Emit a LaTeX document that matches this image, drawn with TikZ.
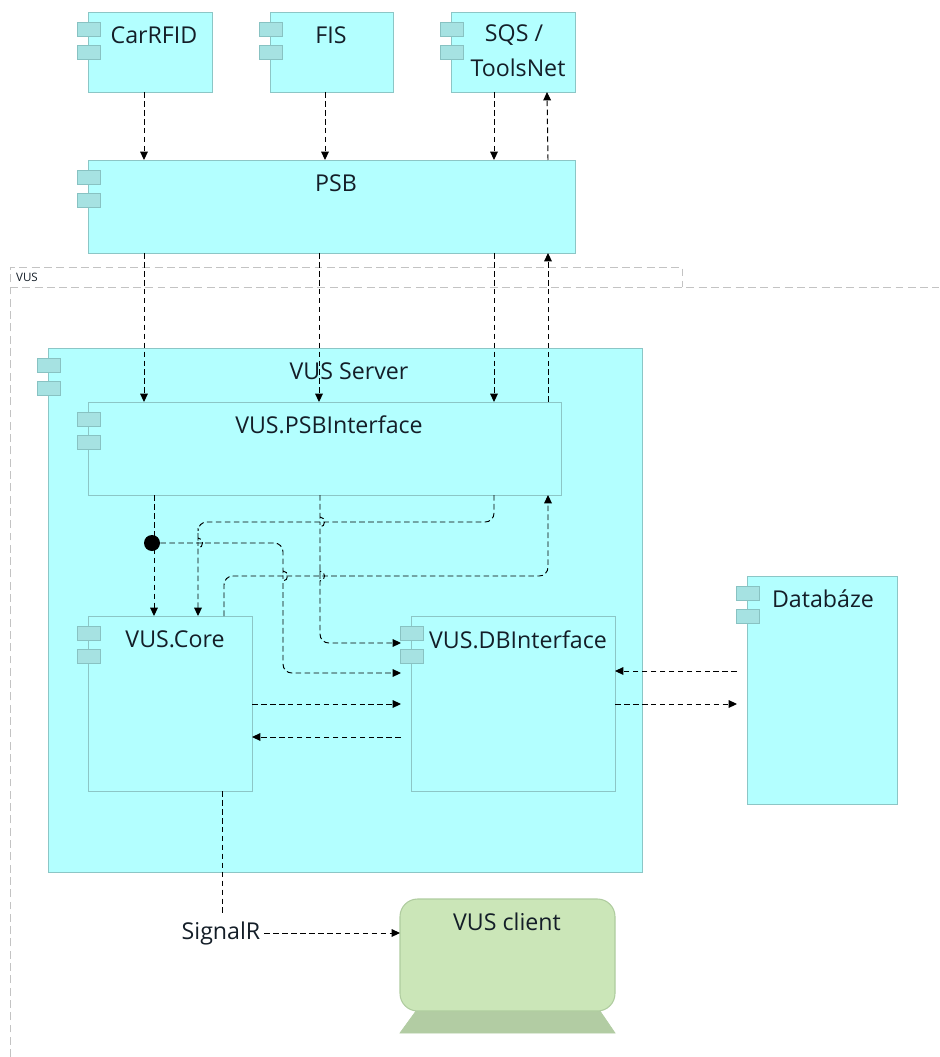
\documentclass[tikz,border=0pt]{standalone}
\usepackage{fontspec}
\setmainfont{Open Sans}
\usetikzlibrary{arrows.meta, calc}
\definecolor{cBox}{RGB}{179,255,255}
\definecolor{cBoxLine}{RGB}{140,198,198}
\definecolor{cTab}{RGB}{166,226,226}
\definecolor{cTabLine}{RGB}{136,194,194}
\definecolor{cClient}{RGB}{203,230,184}
\definecolor{cClientLine}{RGB}{175,204,159}
\definecolor{cStand}{RGB}{178,204,163}
\definecolor{cFrame}{RGB}{195,195,195}
\definecolor{cText}{RGB}{20,30,40}

\tikzset{
  boxsize/.style 2 args={minimum width=#1*0.02cm, minimum height=#2*0.02cm},
  compbox/.style={draw=cBoxLine, fill=cBox, line width=0.5pt, inner sep=0pt, outer sep=0pt, anchor=north west},
  tabbox/.style={draw=cTabLine, fill=cTab, line width=0.5pt},
  lbl/.style={font=\fontsize{13.2}{16}\selectfont, text=cText, inner sep=0pt},
  conn/.style={black, line width=0.55pt, dash pattern=on 3.2pt off 1.9pt, rounded corners=5pt},
  arr/.style={conn, -{Triangle[length=4.8pt, width=4.4pt]}},
  frameline/.style={cFrame, line width=0.5pt, dash pattern=on 4.5pt off 2.5pt}
}
% hop of a vertical line over a horizontal one
\newcommand{\hopat}[2]{-- (#1,#2-6) [sharp corners] -- (#1,#2-5) .. controls (#1+6,#2-5) and (#1+6,#2+5) .. (#1,#2+5) -- (#1,#2+6) [rounded corners=5pt]}
% the two small rectangles on the left edge of a component
\newcommand{\comptabs}[1]{
  \foreach \ya in {10,33} {
    \draw[tabbox] ($(#1.north west)+(-11,\ya)$) rectangle ($(#1.north west)+(12,\ya+14)$);
  }
}

\begin{document}
\begin{tikzpicture}[x=0.02cm, y=-0.02cm]
\useasboundingbox (0,0) rectangle (939,1057);

% VUS frame
\draw[frameline] (10,1057) -- (10,267) -- (682,267) -- (682,287);
\draw[frameline] (10,287) -- (939,287);
\node[font=\fontsize{6.6}{8}\selectfont, text=cText, inner sep=0pt] (vuslabel) at (27,277) {VUS};

% top row
\node[compbox, boxsize={124}{80}] (carrfid) at (88,12) {};
\node[compbox, boxsize={123}{80}] (fis) at (270,12) {};
\node[compbox, boxsize={124}{80}] (sqs) at (451,12) {};
\node[compbox, boxsize={487}{93}] (psb) at (88,160) {};
\comptabs{carrfid}
\comptabs{fis}
\comptabs{sqs}
\comptabs{psb}
\node[lbl] (carrfidtext) at (154,35) {CarRFID};
\node[lbl] (fistext) at (331,35) {FIS};
\node[lbl] (sqstext) at (514,35) {SQS /};
\node[lbl] (toolstext) at (518,68) {ToolsNet};
\node[lbl] (psbtext) at (336,183) {PSB};

% server
\node[compbox, boxsize={594}{524}] (server) at (48,348) {};
\node[compbox, boxsize={473}{93}] (psbif) at (88,402) {};
\node[compbox, boxsize={164}{175}] (core) at (88,616) {};
\node[compbox, boxsize={204}{175}] (dbif) at (411,616) {};
\node[compbox, boxsize={150}{228}] (db) at (747,576) {};
\comptabs{server}
\comptabs{psbif}
\comptabs{core}
\comptabs{dbif}
\comptabs{db}
\node[lbl] (servertext) at (349,371) {VUS Server};
\node[lbl] (psbiftext) at (329,425) {VUS.PSBInterface};
\node[lbl] (coretext) at (175,639) {VUS.Core};
\node[lbl] (dbiftext) at (518,640) {VUS.DBInterface};
\node[lbl] (dbtext) at (823,599) {Databáze};

% client
\draw[draw=cStand, fill=cStand] (400,1033) -- (416,1011) -- (600,1011) -- (615,1033) -- cycle;
\node[draw=cClientLine, fill=cClient, line width=0.6pt, rounded corners=10pt, inner sep=0pt, outer sep=0pt, anchor=north west, boxsize={215}{112}] (client) at (400,899) {};
\node[lbl] (clienttext) at (507,922) {VUS client};
\node[lbl] (signalr) at (221,933) {SignalR};
\coordinate (signalrtop) at (222,913);
\node[circle, fill=black, inner sep=0pt, minimum size=16*0.02cm] (joint) at (152,543) {};

% top connectors
\foreach \name/\xa in {carrfid/144,fis/325,sqs/494} {
  \draw[arr] (\xa,0 |- \name.south) -- (\xa,0 |- psb.north);
}
\draw[arr] (548,0 |- psb.north) -- (547,0 |- sqs.south);
\foreach \xa in {144,319,494} {
  \draw[arr] (\xa,0 |- psb.south) -- (\xa,0 |- psbif.north);
}
\draw[arr] (548,0 |- psbif.north) -- (548,0 |- psb.south);

% inside the server
\draw[arr] (154,0 |- psbif.south) -- (154,0 |- core.north);
\draw[arr] (494,0 |- psbif.south) -- (494,522) -- (198,522) \hopat{198}{543} -- (198,0 |- core.north);
\draw[arr] (joint.east) -- (283,543) \hopat{283}{576} -- (283,673) -- (401,673);
\draw[arr] (320,0 |- psbif.south) \hopat{320}{522} \hopat{320}{576} -- (320,643) -- (401,643);
\draw[arr] (224,0 |- core.north) -- (224,576) -- (548,576) -- (548,0 |- psbif.south);
\draw[arr] (core.east |- 0,704) -- (401,704);
\draw[arr] (401,737) -- (core.east |- 0,737);

% database
\draw[arr] (737,671) -- (dbif.east |- 0,671);
\draw[arr] (dbif.east |- 0,704) -- (737,704);

% client side
\draw[conn] (222,0 |- core.south) -- (signalrtop);
\draw[arr] ([xshift=2pt]signalr.east) -- (client.west |- signalr.east);
\end{tikzpicture}
\end{document}
